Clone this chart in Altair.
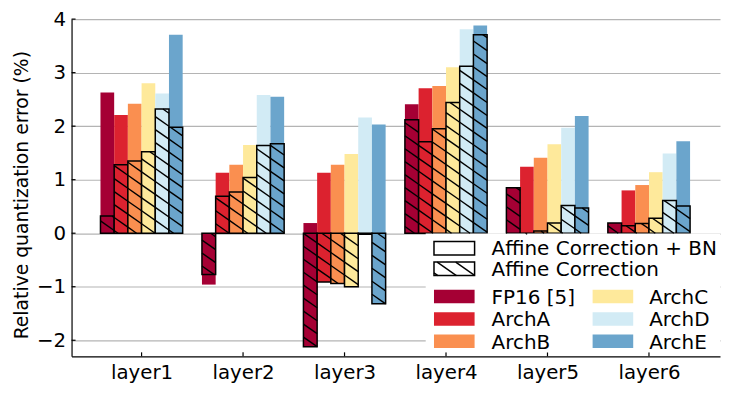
import altair as alt
import pandas as pd
import numpy as np

layers = ["layer1", "layer2", "layer3", "layer4", "layer5", "layer6"]
series = ["FP16 [5]", "ArchA", "ArchB", "ArchC", "ArchD", "ArchE"]
colors = ["#a50034", "#dc222f", "#fa8f50", "#fee99b", "#d2ebf5", "#6ba5cc"]

# "Affine Correction + BN" (solid bars)
bn_fp16 = [2.63, -0.96, 0.19, 2.41, 0.84, 0.18]
bn_archA = [2.21, 1.13, 1.13, 2.71, 1.24, 0.80]
bn_archB = [2.42, 1.28, 1.28, 2.75, 1.41, 0.90]
bn_archC = [2.80, 1.65, 1.48, 3.10, 1.66, 1.14]
bn_archD = [2.61, 2.58, 2.16, 3.81, 1.97, 1.49]
bn_archE = [3.71, 2.55, 2.03, 3.88, 2.19, 1.72]

# "Affine Correction" (hatched bars)
ac_fp16 = [0.32, -0.77, -2.12, 2.12, 0.85, 0.19]
ac_archA = [1.28, 0.69, -0.91, 1.71, -0.02, 0.14]
ac_archB = [1.35, 0.77, -0.94, 1.95, 0.04, 0.18]
ac_archC = [1.52, 1.04, -1.00, 2.44, 0.19, 0.28]
ac_archD = [2.32, 1.64, -0.02, 3.12, 0.52, 0.61]
ac_archE = [1.98, 1.67, -1.32, 3.71, 0.47, 0.51]

y_ticks = [-2, -1, 0, 1, 2, 3, 4]
legend_titles = ["Affine Correction + BN", "Affine Correction"]

bn_all = [bn_fp16, bn_archA, bn_archB, bn_archC, bn_archD, bn_archE]
ac_all = [ac_fp16, ac_archA, ac_archB, ac_archC, ac_archD, ac_archE]

# layout / style
W, H = 650, 338
XMIN, XMAX = 0.31, 6.70
YMIN, YMAX = -2.3, 4.0
BW = 0.135
SX = W / (XMAX - XMIN)
SY = H / (YMAX - YMIN)
K = 0.7       # hatch slope (screen)
STEP = 13.0   # hatch spacing (px)
FONT = "DejaVu Sans"
FS = 20.0
AFS = 19.8
TFS = 18.8

xs = alt.Scale(domain=[XMIN, XMAX], nice=False, zero=False)
ys = alt.Scale(domain=[YMIN, YMAX], nice=False, zero=False)
cs = alt.Scale(domain=series, range=colors)


def to_dx(px):
    return XMIN + px / SX


def to_dy(py):
    return YMAX - py / SY


def hatch(X0, X1, Y0, Y1):
    segs = []
    cmin = Y0 - K * X1
    cmax = Y1 - K * X0
    for n in range(int(np.floor(cmin / STEP)), int(np.ceil(cmax / STEP)) + 1):
        c = n * STEP
        xa = max(X0, (Y0 - c) / K)
        xb = min(X1, (Y1 - c) / K)
        if xb - xa > 0.3:
            segs.append(dict(hx=to_dx(xa), hy=to_dy(K * xa + c),
                             hx2=to_dx(xb), hy2=to_dy(K * xb + c)))
    return segs


rows = []
hrows = []
for j, s in enumerate(series):
    for i, l in enumerate(layers):
        c = i + 1 + (j - 2.5) * BW
        x0, x1 = c - BW / 2, c + BW / 2
        rows.append(dict(layer=l, series=s, x0=x0, x1=x1, bn=bn_all[j][i], ac=ac_all[j][i]))
        v = ac_all[j][i]
        X0, X1 = (x0 - XMIN) * SX, (x1 - XMIN) * SX
        Y0, Y1 = (YMAX - max(v, 0)) * SY, (YMAX - min(v, 0)) * SY
        hrows += hatch(X0, X1, Y0, Y1)
df = pd.DataFrame(rows)

# ---- legend layout (pixels inside the plot, converted through the scales) ----
LX0, LX1 = 355.0, 650.0
LY0, LY1 = 215.0, 334.0
PW, PH = 40.7, 13.5
row_c = [229.6, 250.3, 278.0, 300.6, 323.0]
col_px = [363.3, 522.3]
col_tx = [421.0, 579.0]

lbg_df = pd.DataFrame([dict(x0=to_dx(LX0), x1=to_dx(LX1), y0=to_dy(LY0), y1=to_dy(LY1))])

box_rows, cpatch_rows, text_rows = [], [], []
for k_, t in enumerate(legend_titles):
    box_rows.append(dict(x0=to_dx(col_px[0]), x1=to_dx(col_px[0] + PW),
                         y0=to_dy(row_c[k_] - PH / 2), y1=to_dy(row_c[k_] + PH / 2)))
    text_rows.append(dict(tx=to_dx(col_tx[0]), ty=to_dy(row_c[k_] + 7.2), label=t))
for j, s in enumerate(series):
    col, r = divmod(j, 3)
    cpatch_rows.append(dict(series=s, x0=to_dx(col_px[col]), x1=to_dx(col_px[col] + PW),
                            y0=to_dy(row_c[2 + r] - PH / 2), y1=to_dy(row_c[2 + r] + PH / 2)))
    text_rows.append(dict(tx=to_dx(col_tx[col]), ty=to_dy(row_c[2 + r] + 7.2), label=s))
hrows += hatch(col_px[0], col_px[0] + PW, row_c[1] - PH / 2, row_c[1] + PH / 2)

dh = pd.DataFrame(hrows)

base = alt.Chart(df)
solid = base.mark_rect().encode(
    x=alt.X("x0:Q", scale=xs,
            axis=alt.Axis(values=[1, 2, 3, 4, 5, 6], labelExpr="'layer' + datum.value",
                          title=None, grid=False, ticks=False, labelPadding=6,
                          domainColor="black", domainWidth=1.2,
                          labelFont=FONT, labelFontSize=AFS, labelColor="black")),
    x2="x1:Q",
    y=alt.Y("bn:Q", scale=ys,
            axis=alt.Axis(values=y_ticks, format="d", title="Relative quantization error (%)",
                          grid=True, gridColor="#b4b4b4", gridWidth=1.2,
                          ticks=False, labelPadding=6,
                          domainColor="black", domainWidth=1.2,
                          labelFont=FONT, labelFontSize=AFS, labelColor="black",
                          titleFont=FONT, titleFontSize=TFS, titleFontWeight="normal",
                          titleColor="black", titleX=-50, titleY=176,
                          titleBaseline="middle", titleAngle=270)),
    y2=alt.datum(0),
    color=alt.Color("series:N", scale=cs, legend=None),
)
hatched = base.mark_rect(stroke="black", strokeWidth=1.5).encode(
    x=alt.X("x0:Q", scale=xs), x2="x1:Q",
    y=alt.Y("ac:Q", scale=ys), y2=alt.datum(0),
    color=alt.Color("series:N", scale=cs, legend=None),
)

# inward tick marks
yt = alt.Chart(pd.DataFrame({"v": y_ticks})).mark_rule(color="black", strokeWidth=1.2).encode(
    y=alt.Y("v:Q", scale=ys), x=alt.value(0), x2=alt.value(4))
xt = alt.Chart(pd.DataFrame({"v": [1, 2, 3, 4, 5, 6]})).mark_rule(color="black", strokeWidth=1.2).encode(
    x=alt.X("v:Q", scale=xs), y=alt.value(H), y2=alt.value(H - 4))

lbg = alt.Chart(lbg_df).mark_rect(fill="white").encode(
    x=alt.X("x0:Q", scale=xs), x2="x1:Q", y=alt.Y("y0:Q", scale=ys), y2="y1:Q")
lcol = alt.Chart(pd.DataFrame(cpatch_rows)).mark_rect().encode(
    x=alt.X("x0:Q", scale=xs), x2="x1:Q", y=alt.Y("y0:Q", scale=ys), y2="y1:Q",
    color=alt.Color("series:N", scale=cs, legend=None))
lbox_fill = alt.Chart(pd.DataFrame(box_rows)).mark_rect(fill="white").encode(
    x=alt.X("x0:Q", scale=xs), x2="x1:Q", y=alt.Y("y0:Q", scale=ys), y2="y1:Q")

hlines = alt.Chart(dh).mark_rule(color="black", strokeWidth=1.4).encode(
    x=alt.X("hx:Q", scale=xs), x2="hx2:Q",
    y=alt.Y("hy:Q", scale=ys), y2="hy2:Q",
)
lbox_edge = alt.Chart(pd.DataFrame(box_rows)).mark_rect(fill=None, stroke="black", strokeWidth=1.5).encode(
    x=alt.X("x0:Q", scale=xs), x2="x1:Q", y=alt.Y("y0:Q", scale=ys), y2="y1:Q")
ltext = alt.Chart(pd.DataFrame(text_rows)).mark_text(
    align="left", baseline="alphabetic", font=FONT, fontSize=FS, color="black").encode(
    x=alt.X("tx:Q", scale=xs), y=alt.Y("ty:Q", scale=ys), text="label:N")

chart = alt.layer(solid, hatched, yt, xt, lbg, lcol, lbox_fill, hlines, lbox_edge, ltext).properties(
    width=W, height=H,
    padding={"left": 63.7, "top": 10.7, "right": 4, "bottom": 30},
    autosize=alt.AutoSizeParams(type="none"),
    background="white",
).configure_view(stroke=None)

chart.save("out.html", embed_options={"renderer": "svg", "actions": False})
